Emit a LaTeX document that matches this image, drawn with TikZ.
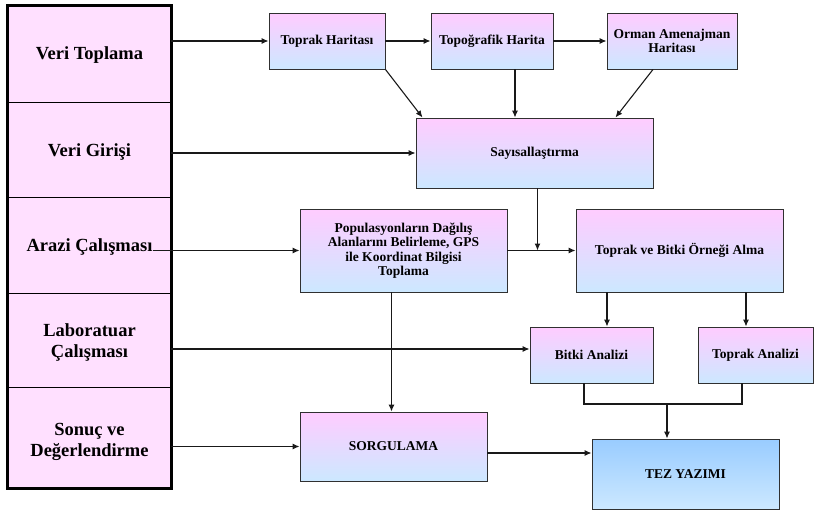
\documentclass[tikz,border=0pt]{standalone}
\usepackage{fontspec}
\setmainfont{Liberation Serif}
\usetikzlibrary{arrows.meta}
\definecolor{pk}{HTML}{FFCCFF}
\definecolor{lb}{HTML}{CCE8FF}
\definecolor{tzb}{HTML}{99CCFF}
\definecolor{colfill}{HTML}{FFE0FF}
\definecolor{edge}{HTML}{303030}
\begin{document}
\begin{tikzpicture}[x=1pt,y=-1pt,
  box/.style={draw=edge, line width=0.9pt, top color=pk, bottom color=lb,
    font=\fontsize{13.5}{14.5}\selectfont\bfseries, align=center, inner sep=0pt},
  rowbox/.style={draw=black, line width=0.8pt, fill=colfill, minimum width=163pt, inner sep=0pt},
  rowlab/.style={font=\fontsize{18.5}{21}\selectfont\bfseries, align=center, inner sep=0pt},
  arr/.style={line width=1.1pt, draw=black!90, -{Latex[length=7pt,width=6pt]}},
  ln/.style={line width=1.1pt, draw=black!90}]
\useasboundingbox (0,0) rectangle (815,514);
% left column
\node[rowbox, minimum height=96pt] (r1) at (89.5,54) {};
\node[rowbox, minimum height=95pt] (r2) at (89.5,149.5) {};
\node[rowbox, minimum height=96pt] (r3) at (89.5,245) {};
\node[rowbox, minimum height=94pt] (r4) at (89.5,340) {};
\node[rowbox, minimum height=101pt] (r5) at (89.5,437.5) {};
\draw[line width=3pt] (r1.north west) rectangle (r5.south east);
\node[rowlab] (l1) at (89.5,55) {Veri Toplama};
\node[rowlab] (l2) at (89.5,152) {Veri Girişi};
\node[rowlab] (l3) at (89.5,247) {Arazi Çalışması};
\node[rowlab] (l4) at (89.5,342) {Laboratuar\\Çalışması};
\node[rowlab] (l5) at (89.5,442) {Sonuç ve\\Değerlendirme};
% boxes
\node[box, minimum width=116pt, minimum height=56pt] (th) at (327,41) {Toprak Haritası};
\node[box, minimum width=122pt, minimum height=56pt] (topo) at (492,41) {Topoğrafik Harita};
\node[box, minimum width=130pt, minimum height=56pt] (orm) at (672,41) {Orman Amenajman\\Haritası};
\node[box, minimum width=237pt, minimum height=70pt] (say) at (534.5,153) {Sayısallaştırma};
\node[box, minimum width=207pt, minimum height=83pt] (pop) at (403.5,250.5) {Populasyonların Dağılış\\Alanlarını Belirleme, GPS\\ile Koordinat Bilgisi\\Toplama};
\node[box, minimum width=207pt, minimum height=83pt] (tb) at (679.5,250.5) {Toprak ve Bitki Örneği Alma};
\node[box, minimum width=123pt, minimum height=56pt] (ba) at (591.5,355) {Bitki Analizi};
\node[box, minimum width=115pt, minimum height=56pt] (ta) at (755.5,355) {Toprak Analizi};
\node[box, minimum width=187pt, minimum height=69pt] (sorg) at (393.5,446.5) {SORGULAMA};
\node[box, top color=tzb, minimum width=187pt, minimum height=70pt] (tez) at (685.5,474) {TEZ YAZIMI};
% connectors
\draw[arr] (r1.east |- th.west) -- (th.west);
\draw[arr] (th.east) -- (topo.west);
\draw[arr] (topo.east) -- (orm.west);
\draw[arr] (th.south east) -- ([xshift=7pt]say.north west);
\draw[arr] ([xshift=23pt]topo.south) -- ([xshift=23pt]topo.south |- say.north);
\draw[arr] ([xshift=-19pt]orm.south) -- ([xshift=-38pt]say.north east);
\draw[arr] (r2.east |- say.west) -- (say.west);
\draw[arr] (l3.east |- pop.west) -- (pop.west);
\draw[arr] ([xshift=3pt]say.south) -- ([xshift=3pt]say.south |- pop.east);
\draw[arr] (pop.east) -- (tb.west);
\draw[arr] ([yshift=-9pt]r4.east) -- ([yshift=-9pt]r4.east -| ba.west);
\draw[arr] ([xshift=-72.5pt]tb.south) -- ([xshift=-72.5pt]tb.south |- ba.north);
\draw[arr] ([xshift=66.5pt]tb.south) -- ([xshift=66.5pt]tb.south |- ta.north);
\draw[arr] ([xshift=-2pt]pop.south -| sorg.north) -- ([xshift=-2pt]sorg.north);
\draw[arr] (r5.east |- sorg.west) -- (sorg.west);
\draw[arr] ([yshift=-6.5pt]sorg.east) -- ([yshift=-6.5pt]sorg.east -| tez.west);
\coordinate (j) at (667,404);
\draw[ln] ([xshift=-7.5pt]ba.south) |- (j) -| ([xshift=-13.5pt]ta.south);
\draw[arr] (j) -- (j |- tez.north);
\end{tikzpicture}
\end{document}
